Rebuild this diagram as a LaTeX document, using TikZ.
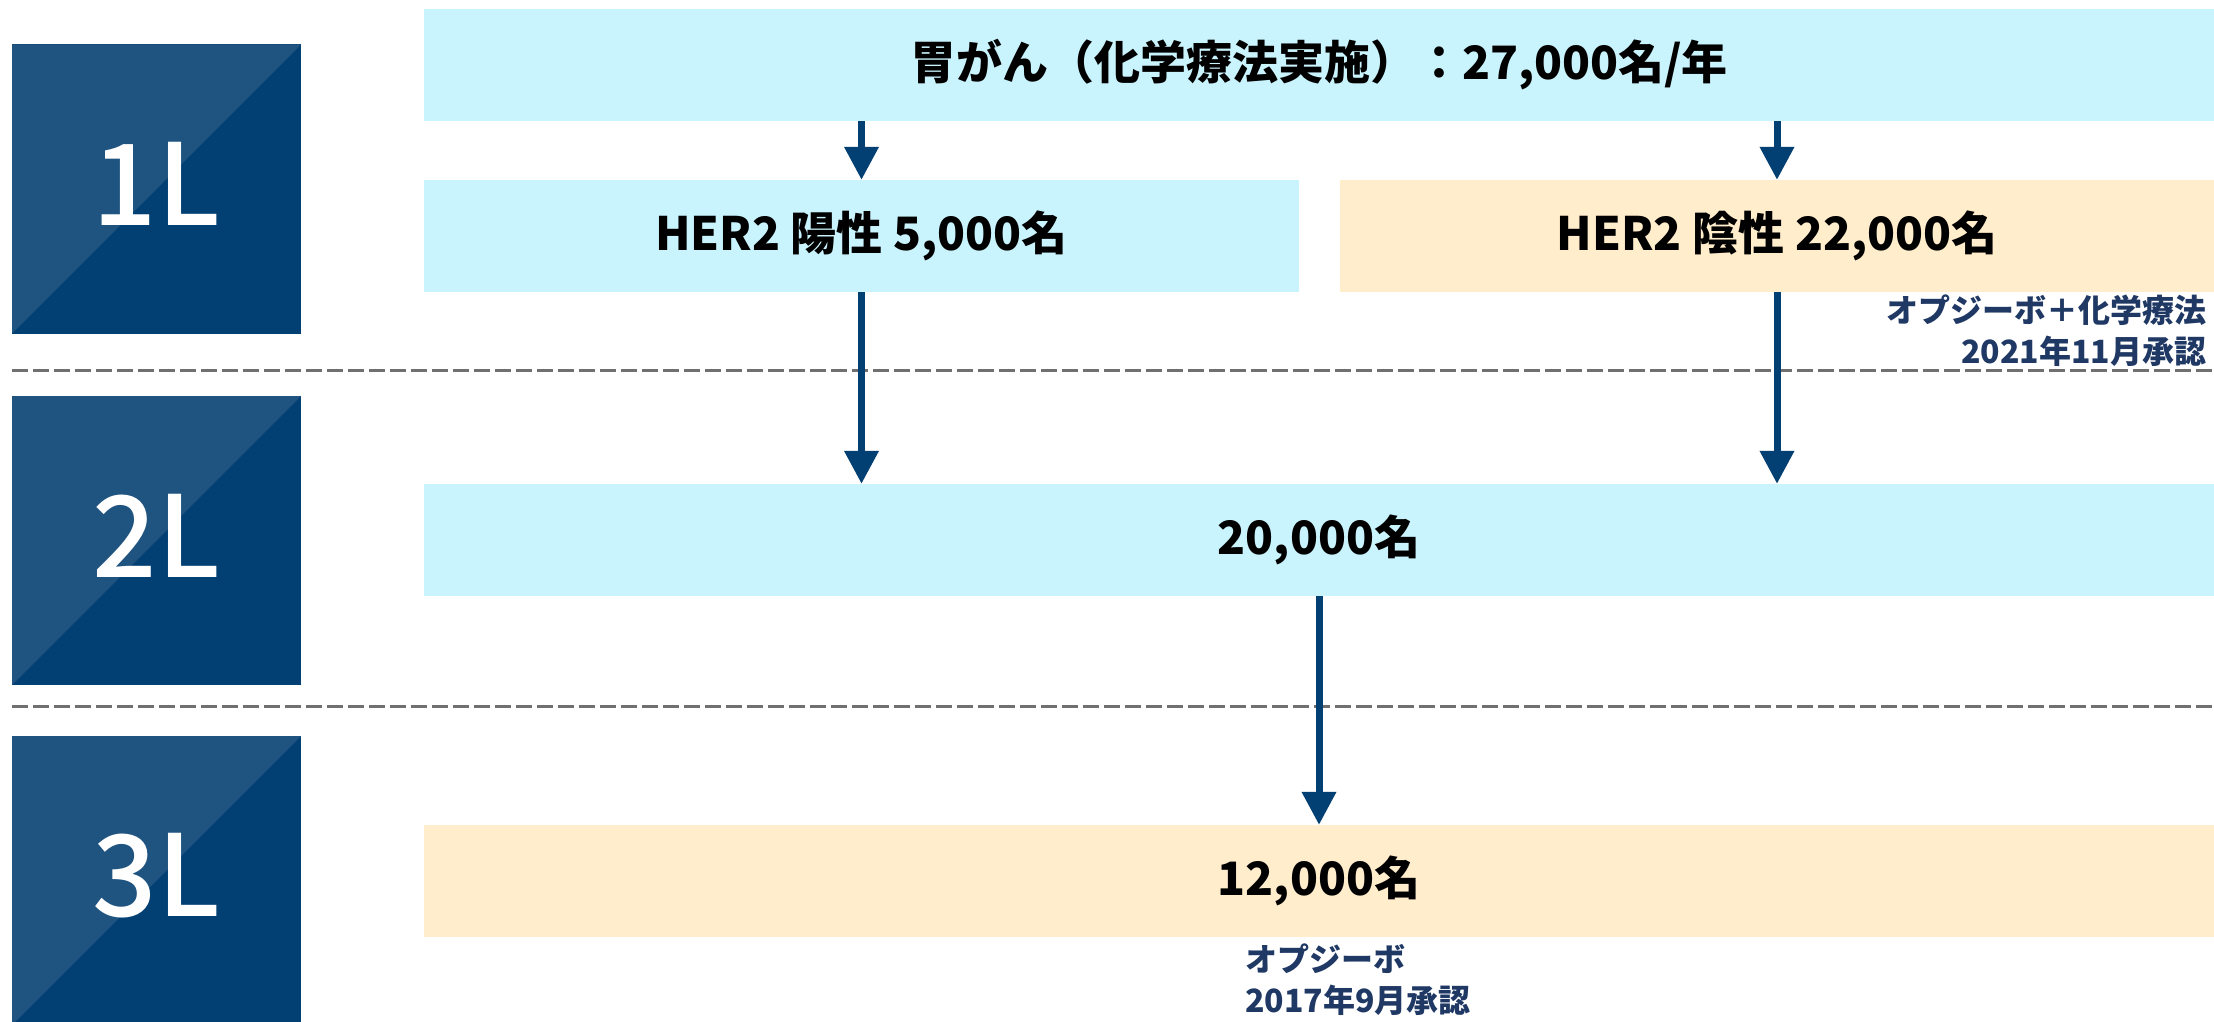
\documentclass[tikz,border=0pt]{standalone}
\usepackage{fontspec}
\setmainfont{Noto Sans CJK JP}
\newfontfamily\lvlfont{Noto Sans CJK JP Medium}
\usetikzlibrary{arrows.meta}
\definecolor{cyanbox}{HTML}{CAF4FD}
\definecolor{beigebox}{HTML}{FFEDCC}
\definecolor{lvldark}{HTML}{023F73}
\definecolor{lvllight}{HTML}{1F5380}
\definecolor{arrowblue}{HTML}{023F73}
\definecolor{notecol}{HTML}{1F3864}
\definecolor{dashgray}{HTML}{707070}
\begin{document}
\begin{tikzpicture}[x=1pt,y=-1pt,
  boxbase/.style={inner sep=0pt, minimum height=112pt, font=\fontsize{46}{52}\selectfont\bfseries, text=black},
  cbox/.style={boxbase, fill=cyanbox},
  bbox/.style={boxbase, fill=beigebox},
  lvlbox/.style={minimum width=289pt, minimum height=289pt, inner sep=0pt, fill=lvldark,
    path picture={\fill[lvllight] (path picture bounding box.south west) -- (path picture bounding box.north west) -- (path picture bounding box.north east) -- cycle;}},
  lvltext/.style={text=white, font=\lvlfont\fontsize{113}{120}\selectfont, inner sep=0pt},
  flow/.style={draw=arrowblue, line width=7pt, -{Triangle[width=33pt,length=33pt]}},
  note/.style={inner sep=0pt, text=notecol, font=\fontsize{32}{41}\selectfont\bfseries},
  sep/.style={draw=dashgray, line width=3pt, dash pattern=on 16pt off 5pt}
]
\useasboundingbox (0,0) rectangle (2214,1022);
\fill[white] (0,0) rectangle (2214,1022);

% level squares
\node[lvlbox] (L1) at (156.5,189) {};
\node[lvlbox] (L2) at (156.5,540.5) {};
\node[lvlbox] (L3) at (156.5,880.5) {};
\node[lvltext] (T1) at ([yshift=5pt]L1.center) {1L};
\node[lvltext] (T2) at ([yshift=5pt]L2.center) {2L};
\node[lvltext] (T3) at ([yshift=5pt]L3.center) {3L};

% dashed separators
\coordinate (s1a) at (12,370);
\coordinate (s1b) at (2214,370);
\coordinate (s2a) at (12,706);
\coordinate (s2b) at (2214,706);
\draw[sep] (s1a) -- (s1b);
\draw[sep] (s2a) -- (s2b);

% boxes
\node[cbox, minimum width=1790pt] (top) at (1319,65) {胃がん（化学療法実施）：27,000名/年};
\node[cbox, minimum width=875pt] (hpos) at (861.5,236) {HER2 陽性 5,000名};
\node[bbox, minimum width=874pt] (hneg) at (1777,236) {HER2 陰性 22,000名};
\node[cbox, minimum width=1790pt] (mid) at (1319,540) {20,000名};
\node[bbox, minimum width=1790pt] (last) at (1319,881) {12,000名};

% arrows
\draw[flow] (hpos.north |- top.south) -- (hpos.north);
\draw[flow] (hneg.north |- top.south) -- (hneg.north);
\draw[flow] (hpos.south) -- (hpos.south |- mid.north);
\draw[flow] (hneg.south) -- (hneg.south |- mid.north);
\draw[flow] (mid.south) -- (last.north);

% notes
\node[note, anchor=north east, align=right] (n1) at ([xshift=-8pt,yshift=-2pt]hneg.south east) {オプジーボ＋化学療法\\2021年11月承認};
\node[note, anchor=north west, align=left] (n2) at (1245,944) {オプジーボ\\2017年9月承認};
\end{tikzpicture}
\end{document}
